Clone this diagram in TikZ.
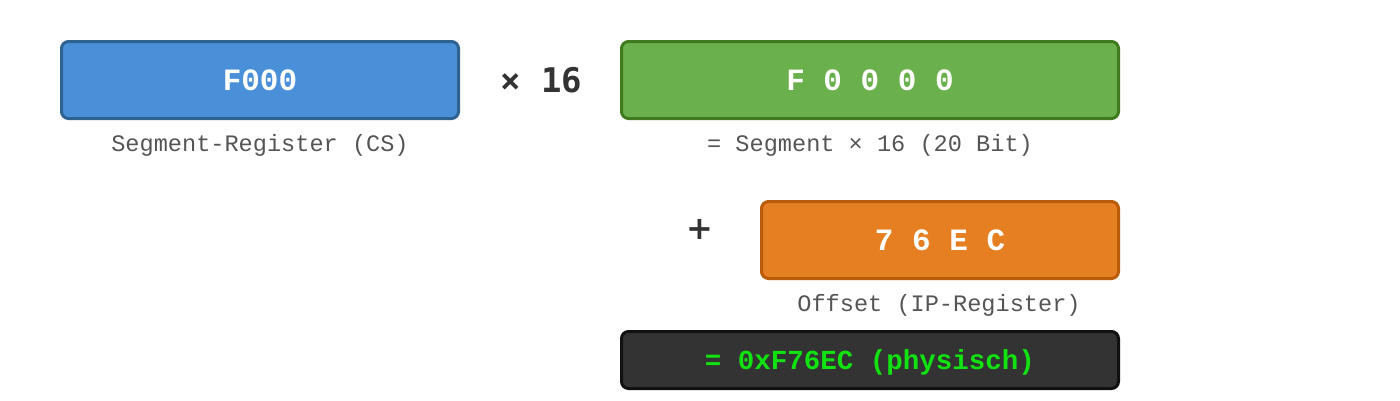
\documentclass[tikz,border=0pt]{standalone}
\usepackage{fontspec}
\setmainfont{Liberation Serif}
\setmonofont{Liberation Mono}
\newfontfamily\opfont{DejaVu Sans Mono}
\newfontfamily\plusfont{DejaVu Sans}
\usetikzlibrary{calc}
\newcommand{\unitsize}{1pt}
\definecolor{segfill}{HTML}{4A90D9}
\definecolor{segline}{HTML}{2E6291}
\definecolor{shiftfill}{HTML}{6AB04C}
\definecolor{shiftline}{HTML}{3F7A1F}
\definecolor{offfill}{HTML}{E67E22}
\definecolor{offline}{HTML}{B85C0A}
\definecolor{resfill}{HTML}{333333}
\definecolor{resline}{HTML}{111111}
\definecolor{restext}{HTML}{11E311}
\definecolor{lbltext}{HTML}{555555}
\tikzset{
	regbox/.style={draw, line width=3pt, rounded corners=7pt, inner sep=0pt,
		minimum height=77pt, text=white, text depth=0pt, text height=20.4pt,
		font=\ttfamily\bfseries\fontsize{31}{31}\selectfont},
	lbl/.style={anchor=base, text=lbltext, font=\ttfamily\fontsize{23.6}{24}\selectfont},
	op/.style={text=resfill, font=\opfont\bfseries\fontsize{34}{34}\selectfont}
}

\begin{document}
\begin{tikzpicture}[x=\unitsize,y=-\unitsize]
	\useasboundingbox (0,0) rectangle (1400,400);

	\node[regbox, fill=segfill, draw=segline, minimum width=397pt] (seg) at (260,80) {F000};
	\node[regbox, fill=shiftfill, draw=shiftline, minimum width=497pt] (shift) at (870,80) {F 0 0 0 0};
	\node[regbox, fill=offfill, draw=offline, minimum width=357pt] (off) at (940,240) {7 6 E C};
	\node[regbox, fill=resfill, draw=resline, minimum width=497pt, minimum height=57pt,
		text=restext, text height=18.1pt,
		font=\ttfamily\bfseries\fontsize{27.5}{28}\selectfont] (res) at (870,360) {= 0xF76EC (physisch)};

	\node[lbl] (seglbl) at (260,151) {Segment-Register (CS)};
	\node[lbl] (shiftlbl) at (870,151) {= Segment × 16 (20 Bit)};
	\node[lbl] (offlbl) at (939,311) {Offset (IP-Register)};

	\node[op] (times) at (541,80) {× 16};
	\node[op, font=\plusfont\bfseries\fontsize{32}{32}\selectfont] (plus) at (700,229) {+};
\end{tikzpicture}
\end{document}
